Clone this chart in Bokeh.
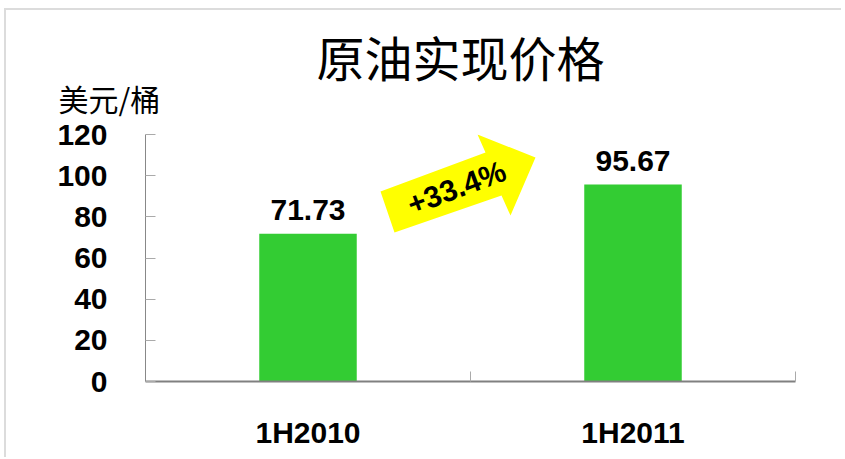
from bokeh.plotting import figure
from bokeh.models import (Range1d, FixedTicker, Label, PolyAnnotation, ColumnDataSource, Title)
from bokeh.core.properties import value
from bokeh.embed import file_html
from bokeh.resources import INLINE

# ---- data ----
categories = ["1H2010", "1H2011"]
prices = [71.73, 95.67]
price_labels = ["71.73", "95.67"]
y_ticks = [0, 20, 40, 60, 80, 100, 120]
title_text = "原油实现价格"
unit_text = "美元/桶"
growth_text = "+33.4%"

centers = [i + 0.5 for i in range(len(categories))]
src = ColumnDataSource(dict(x=centers, top=prices, label=price_labels))

OX, OY = 8, 10          # canvas origin in page pixels
W, H = 837, 449
FL, FB, FT, FR = 147, 381, 134, 797  # frame edges in page pixels
p = figure(width=W, height=H, output_backend="svg", toolbar_location=None,
           x_range=Range1d(0, len(categories)), y_range=Range1d(0, 120),
           min_border_left=FL - OX, min_border_right=OX + W - FR, min_border_top=FT - OY,
           min_border_bottom=OY + H - FB)
p.styles = {"border-top": "2px solid #dcdcdc", "border-left": "2px solid #dcdcdc",
            "margin-top": "8px", "margin-left": "4px"}
p.outline_line_color = None
p.xgrid.visible = False
p.ygrid.visible = False
p.background_fill_color = "white"
p.border_fill_color = "white"

p.vbar(x="x", top="top", width=0.3, bottom=0, source=src,
       fill_color="#33CC33", line_color=None)

p.text(x="x", y="top", text="label", source=src, text_align="center",
       text_baseline="bottom", y_offset=-14,
       text_font=value("Liberation Sans"), text_font_style="bold",
       text_font_size="30px", text_color="black")

# y axis
ya = p.yaxis[0]
ya.ticker = FixedTicker(ticks=y_ticks)
ya.axis_line_color = "#888888"
ya.major_tick_in = 10
ya.major_tick_out = 0
ya.minor_tick_line_color = None
ya.major_tick_line_color = "#aaaaaa"
ya.major_label_standoff = 38
ya.major_label_text_font = "Liberation Sans"
ya.major_label_text_font_style = "bold"
ya.major_label_text_font_size = "30px"
ya.major_label_text_color = "black"

# x axis: labels at category centres, ticks at category boundaries
xa = p.xaxis[0]
xa.ticker = FixedTicker(ticks=centers, minor_ticks=list(range(len(categories) + 1)))
xa.major_label_overrides = {c: lab for c, lab in zip(centers, categories)}
xa.axis_line_color = "#808080"
xa.axis_line_width = 2
xa.major_tick_line_color = None
xa.minor_tick_in = 10
xa.minor_tick_out = 0
xa.minor_tick_line_color = "#aaaaaa"
xa.major_label_standoff = 28
xa.major_label_text_font = "Liberation Sans"
xa.major_label_text_font_style = "bold"
xa.major_label_text_font_size = "30px"
xa.major_label_text_color = "black"

# title & unit
p.title.text = title_text
p.title.align = "left"
p.title.offset = 318 - FL
p.title.standoff = -64
p.title.text_font = "Noto Sans CJK SC"
p.title.text_font_style = "normal"
p.title.text_font_size = "48px"
p.title.text_color = "black"
p.add_layout(Title(text=unit_text, align="left", offset=60 - FL, standoff=30,
                   text_font="Noto Sans CJK SC", text_font_style="normal",
                   text_font_size="30px", text_color="black"), "above")

def sx(px):
    return px - FL

def sy(py):
    return FB - py

# growth arrow
arrow_pts = [(396, 232), (382, 191), (487, 152), (479, 134), (537, 157), (512, 215), (503, 195)]
p.add_layout(PolyAnnotation(xs=[sx(x) for x, y in arrow_pts], ys=[sy(y) for x, y in arrow_pts],
                            xs_units="screen", ys_units="screen",
                            fill_color="#FFFF00", fill_alpha=1.0, line_color=None))
p.add_layout(Label(x=sx(458), y=sy(187), x_units="screen", y_units="screen",
                   text=growth_text, angle=20.5, angle_units="deg",
                   text_align="center", text_baseline="middle",
                   text_font="Liberation Sans", text_font_style="bold",
                   text_font_size="30px", text_color="black"))

open("out.html", "w").write(file_html(p, INLINE))
